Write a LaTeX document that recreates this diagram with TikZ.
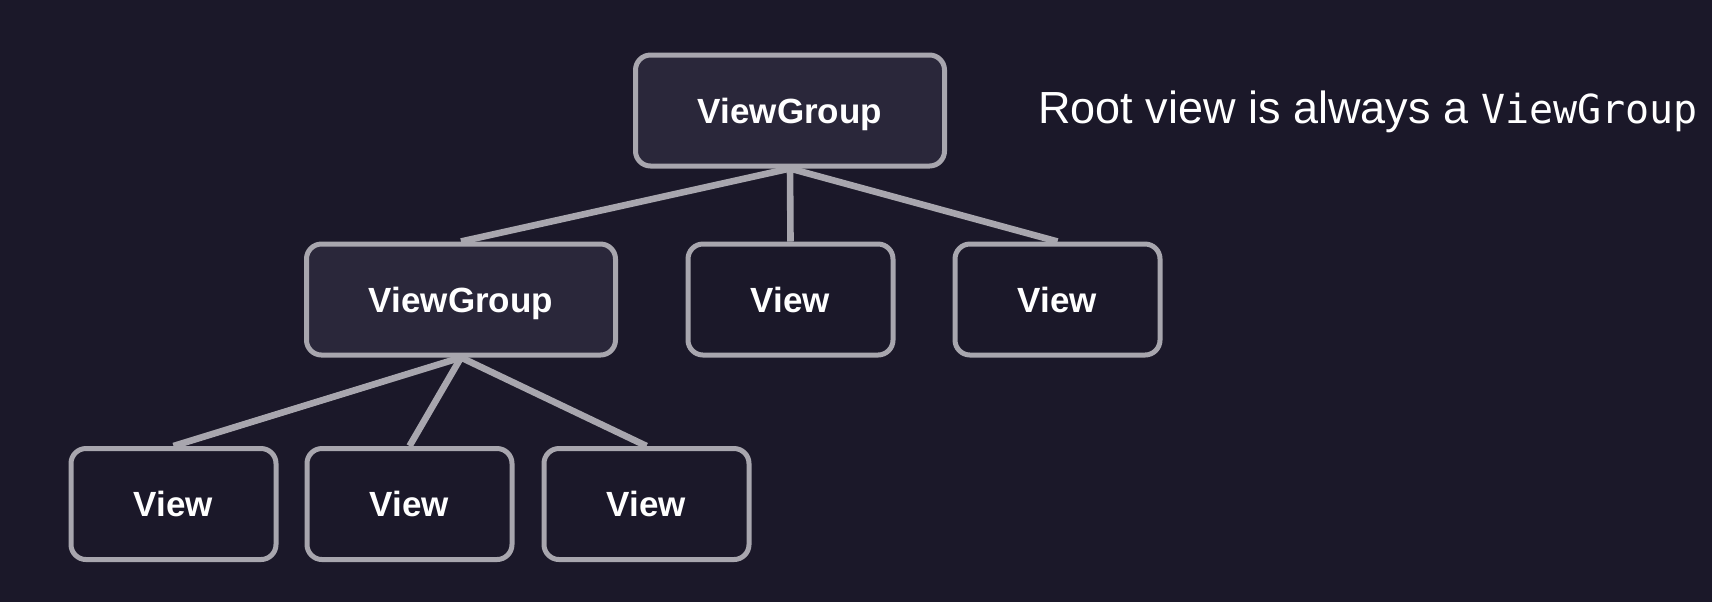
\documentclass[tikz,border=0pt]{standalone}
\usepackage{fontspec}
\setmainfont{Liberation Sans}
\setmonofont{DejaVu Sans Mono}

\definecolor{bgdark}{RGB}{27,24,41}
\definecolor{groupfill}{RGB}{42,39,58}
\definecolor{edgegray}{RGB}{168,166,174}

\tikzset{
  viewbox/.style={draw=edgegray, line width=2.5pt, rounded corners=7.5pt, fill=bgdark,
    text=white, font=\bfseries\fontsize{17.5}{20}\selectfont,
    text height=12.5pt, text depth=0pt,
    minimum width=102.5pt, minimum height=55.5pt, inner sep=0pt},
  groupbox/.style={viewbox, fill=groupfill, minimum width=154.5pt},
  link/.style={draw=edgegray, line width=3.3pt}
}

\begin{document}
\begin{tikzpicture}[x=0.5pt, y=-0.5pt]
    \fill[bgdark] (0,0) rectangle (1712,602);
    \useasboundingbox (0,0) rectangle (1712,602);

    \node[groupbox] (root) at (790,110.5) {ViewGroup};

    \node[groupbox] (group) at (461,299.5) {ViewGroup};
    \node[viewbox] (viewa) at (790.5,299.5) {View};
    \node[viewbox] (viewb) at (1057.5,299.5) {View};

    \node[viewbox] (leafa) at (173.5,504) {View};
    \node[viewbox] (leafb) at (409.5,504) {View};
    \node[viewbox] (leafc) at (646.5,504) {View};

    \node[anchor=base west, inner sep=0pt, text=white, font=\fontsize{22.5}{26}\selectfont]
      (note) at (1038,123.5) {Root view is always a {\fontsize{20}{24}\selectfont\ttfamily ViewGroup}};

    \draw[link] (root.south) -- (group.north);
    \draw[link] (root.south) -- (viewa.north);
    \draw[link] (root.south) -- (viewb.north);

    \draw[link] (group.south) -- (leafa.north);
    \draw[link] (group.south) -- (leafb.north);
    \draw[link] (group.south) -- (leafc.north);

\end{tikzpicture}
\end{document}
